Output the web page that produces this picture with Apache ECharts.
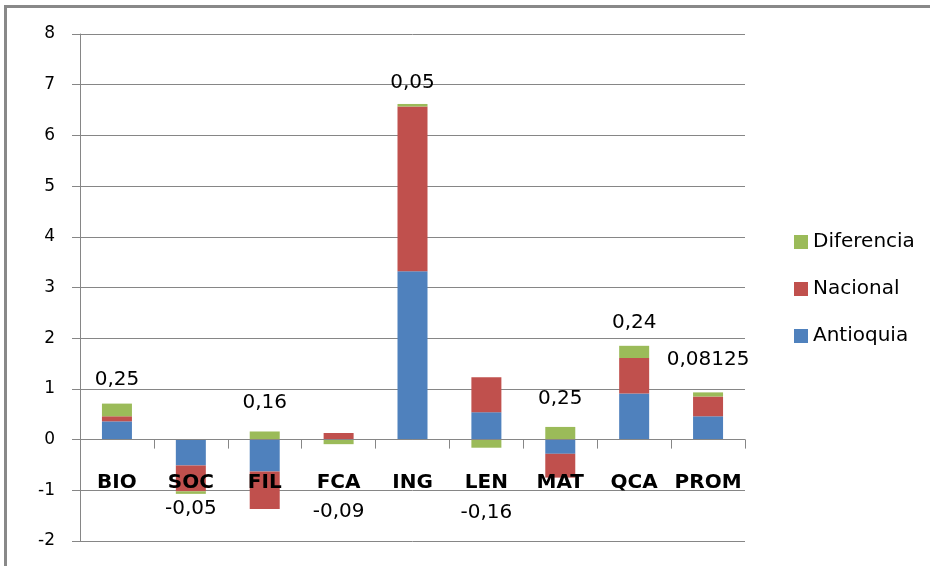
<!DOCTYPE html>
<html>
<head>
<meta charset="utf-8">
<script src="https://cdn.jsdelivr.net/npm/echarts@6/dist/echarts.min.js"></script>
<style>
html,body{margin:0;padding:0;background:#fff;}
#chart{width:930px;height:566px;}
</style>
</head>
<body>
<div id="chart"></div>
<script>
const categories = ['BIO','SOC','FIL','FCA','ING','LEN','MAT','QCA','PROM'];
const antioquia  = [0.36, -0.51, -0.63, 0,    3.32, 0.54, -0.28, 0.91, 0.46];
const nacional   = [0.10, -0.51, -0.74, 0.13, 3.25, 0.69, -0.47, 0.70, 0.39];
const diferencia = [0.25, -0.05, 0.16, -0.09, 0.05, -0.16, 0.25, 0.24, 0.08125];
const yTicks = [-2,-1,0,1,2,3,4,5,6,7,8];

// label distance tweaks (style only)
const labelDistance = [14, 5, 19, 58, 11, 55, 18, 13, 23];

const FONT = 'DejaVu Sans';
const chart = echarts.init(document.getElementById('chart'), null, {renderer:'canvas'});

const difData = diferencia.map((v, i) => ({
  value: v,
  label: { position: 'outside', distance: labelDistance[i] }
}));

chart.setOption({
  animation: false,
  backgroundColor: '#fff',
  grid: { left: 80, right: 185, top: 34, bottom: 25, containLabel: false, outerBoundsMode: 'none' },
  legend: {
    orient: 'vertical',
    left: 789, top: 227,
    itemWidth: 14, itemHeight: 14, itemGap: 27,
    icon: 'rect',
    data: ['Diferencia','Nacional','Antioquia'],
    textStyle: { fontFamily: FONT, fontSize: 20, color: '#000' }
  },
  xAxis: {
    type: 'category',
    data: categories,
    z: 10,
    axisLine: { onZero: true, lineStyle: { color: '#868686', width: 1 } },
    axisTick: { show: true, length: 9, alignWithLabel: false, lineStyle: { color: '#868686' } },
    axisLabel: { interval: 0, fontFamily: FONT, fontSize: 20, fontWeight: 'bold', color: '#000', margin: -68 },
    splitLine: { show: false }
  },
  yAxis: {
    type: 'value',
    min: yTicks[0], max: yTicks[yTicks.length - 1], interval: 1,
    axisLine: { show: true, lineStyle: { color: '#868686', width: 1 } },
    axisTick: { show: true, length: 8, lineStyle: { color: '#868686' } },
    axisLabel: { fontFamily: FONT, fontSize: 17, color: '#000', margin: 25 },
    splitLine: { show: true, lineStyle: { color: '#868686', width: 1 } }
  },
  series: [
    { name: 'Antioquia', type: 'bar', stack: 'total', data: antioquia, barWidth: 30,
      itemStyle: { color: '#4F81BD' } },
    { name: 'Nacional', type: 'bar', stack: 'total', data: nacional, barWidth: 30,
      itemStyle: { color: '#C0504D' } },
    { name: 'Diferencia', type: 'bar', stack: 'total', data: difData, barWidth: 30,
      itemStyle: { color: '#9BBB59' },
      label: {
        show: true,
        fontFamily: FONT, fontSize: 20, color: '#000',
        formatter: p => String(p.value).replace('.', ',')
      }
    }
  ],
  graphic: [
    { type: 'polyline', silent: true, z: 100,
      shape: { points: [[5.5, 566], [5.5, 6.5], [930, 6.5]] },
      style: { stroke: '#898989', lineWidth: 3, fill: null } }
  ]
});
</script>
</body>
</html>
